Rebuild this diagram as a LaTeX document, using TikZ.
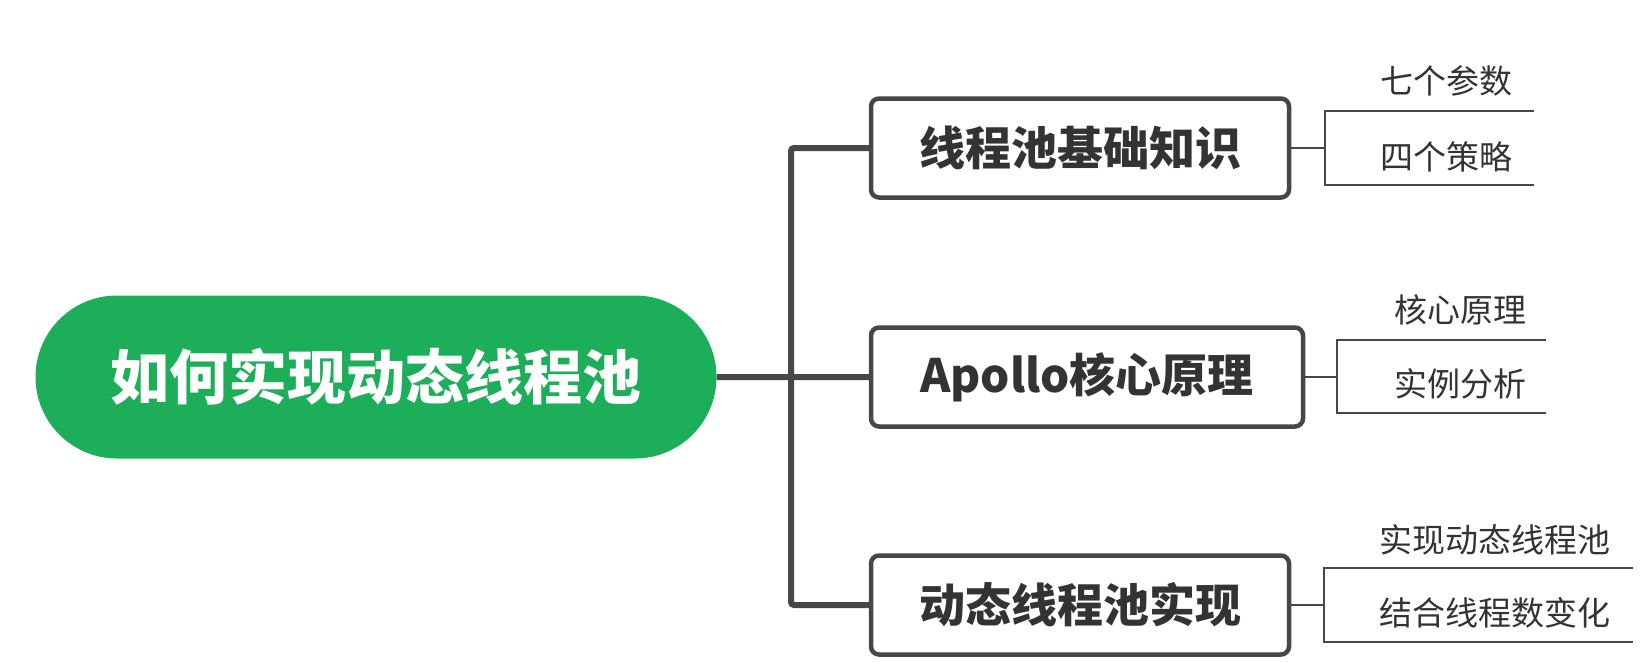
\documentclass[tikz,border=0pt]{standalone}
\usepackage{fontspec}
\setmainfont{Noto Sans CJK SC}
\usetikzlibrary{shapes}
\usetikzlibrary{positioning}
\definecolor{rootgreen}{HTML}{1DAE5A}
\definecolor{linegray}{HTML}{474747}
\definecolor{textgray}{HTML}{333333}
\tikzset{
    rootnode/.style = {rounded rectangle, fill=rootgreen, text=white, minimum width=681pt, minimum height=163pt, inner sep=0pt, font=\bfseries\fontsize{59}{70}\selectfont},
    topicnode/.style = {rectangle, rounded corners=8pt, line width=4.5pt, draw=linegray, fill=white, minimum height=99pt, text=textgray, font=\bfseries\fontsize{46}{56}\selectfont},
    subnode/.style = {text=textgray, inner sep=0pt, font=\fontsize{33}{40}\selectfont},
    edget/.style = {line width=6pt, draw=linegray, rounded corners=3pt},
    edges/.style = {line width=2pt, draw=linegray},
}

\begin{document}
\begin{tikzpicture}[x=1pt,y=-1pt]
\useasboundingbox (0,0) rectangle (1642,662);
% main
\node[rootnode] at (376, 377) (root) {如何实现动态线程池};
\node[topicnode, minimum width=418pt] at (1080, 148) (b1) {线程池基础知识};
\node[topicnode, minimum width=432pt] at (1087, 377) (b2) {Apollo核心原理};
\node[topicnode, minimum width=418pt] at (1080, 605) (b3) {动态线程池实现};
\coordinate (j) at (791, 377);
\draw[edget] (root) -- (b2);
\draw[edget] (b1) -| (j) |- (b3);
% sub items
\node[subnode] at (1446, 81) (t1a) {七个参数};
\node[subnode] at (1446, 157) (t1b) {四个策略};
\node[subnode] at (1460, 310) (t2a) {核心原理};
\node[subnode] at (1460, 384) (t2b) {实例分析};
\node[subnode] at (1495, 540) (t3a) {实现动态线程池};
\node[subnode] at (1495, 613) (t3b) {结合线程数变化};
\coordinate (s1) at (1325, 148);
\coordinate (e1a) at (1534, 111);
\coordinate (e1b) at (1534, 185);
\coordinate (s2) at (1337, 377);
\coordinate (e2a) at (1546, 340);
\coordinate (e2b) at (1546, 413);
\coordinate (s3) at (1324, 605);
\coordinate (e3a) at (1633, 568);
\coordinate (e3b) at (1633, 642);
\draw[edges] (b1) -- (s1);
\draw[edges] (e1a) -| (s1) |- (e1b);
\draw[edges] (b2) -- (s2);
\draw[edges] (e2a) -| (s2) |- (e2b);
\draw[edges] (b3) -- (s3);
\draw[edges] (e3a) -| (s3) |- (e3b);
\end{tikzpicture}
\end{document}
